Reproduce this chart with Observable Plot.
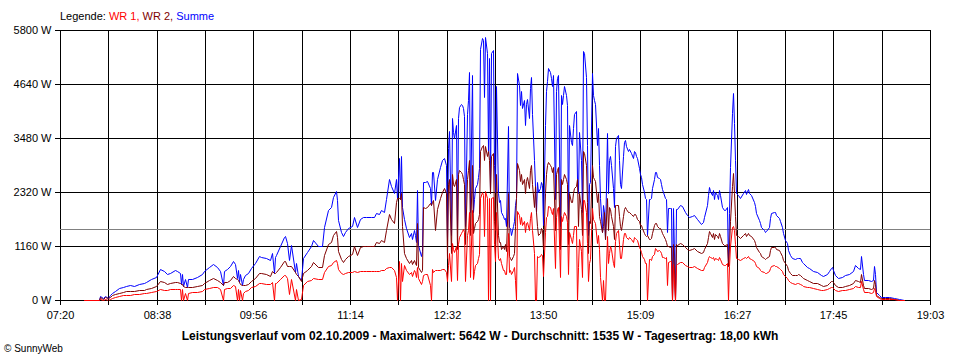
<!DOCTYPE html>
<html><head><meta charset="utf-8">
<script src="https://cdn.jsdelivr.net/npm/d3@7"></script>
<script src="https://cdn.jsdelivr.net/npm/@observablehq/plot@0.6"></script>
<style>
body{margin:0;background:#fff;}
#wrap{position:relative;width:960px;height:360px;font-family:"Liberation Sans",Arial,sans-serif;color:#000;overflow:hidden;}
#chart{position:absolute;left:0;top:0;}
#legend{position:absolute;left:60px;top:10px;font-size:11px;line-height:13px;white-space:nowrap;}
#caption{position:absolute;left:0;width:960px;top:329px;text-align:center;font-size:12px;line-height:14px;font-weight:bold;white-space:nowrap;}
#copy{position:absolute;left:4px;top:343px;font-size:10px;line-height:12px;white-space:nowrap;}
</style></head><body>
<div id="wrap">
<div id="chart"></div>
<div id="legend">Legende: <span style="color:#ff0000">WR 1,</span> <span style="color:#800000">WR 2,</span> <span style="color:#0000ff">Summe</span></div>
<div id="caption">Leistungsverlauf vom 02.10.2009 - Maximalwert: 5642 W - Durchschnitt: 1535 W - Tagesertrag: 18,00 kWh</div>
<div id="copy">© SunnyWeb</div>
</div>
<script>
const times = [
"07:40","07:52","07:53","07:55","07:57","07:59","08:01","08:02","08:05","08:08",
"08:11","08:14","08:17","08:20","08:24","08:28","08:30","08:34","08:38","08:41",
"08:44","08:47","08:49","08:53","08:55","08:57","08:58","08:59","09:00","09:01",
"09:03","09:04","09:07","09:11","09:15","09:17","09:21","09:24","09:27","09:30",
"09:32","09:33","09:35","09:38","09:40","09:42","09:43","09:44","09:45","09:46",
"09:47","09:48","09:50","09:52","09:55","09:58","10:01","10:03","10:07","10:10",
"10:12","10:13","10:14","10:15","10:18","10:21","10:22","10:24","10:25","10:27",
"10:30","10:31","10:33","10:35","10:37","10:40","10:43","10:45","10:49","10:52",
"10:54","10:57","10:59","11:01","11:03","11:04","11:05","11:07","11:09","11:11",
"11:13","11:16","11:18","11:20","11:23","11:25","11:28","11:32","11:34","11:36",
"11:38","11:40","11:42","11:44","11:46","11:48","11:50","11:52","11:53","11:54",
"11:55","11:56","11:57","11:58","12:00","12:02","12:04","12:05","12:06","12:07",
"12:08","12:09","12:10","12:12","12:13","12:14","12:15","12:17","12:19","12:20",
"12:21","12:22","12:23","12:25","12:27","12:29","12:31","12:32","12:33","12:34",
"12:35","12:36","12:37","12:38","12:39","12:40","12:41","12:42","12:43","12:44",
"12:45","12:46","12:47","12:48","12:49","12:50","12:51","12:52","12:53","12:54",
"12:55","12:56","12:57","12:58","12:59","13:00","13:01","13:02","13:03","13:04",
"13:05","13:06","13:07","13:08","13:09","13:10","13:11","13:12","13:13","13:14",
"13:15","13:16","13:17","13:18","13:19","13:20","13:21","13:22","13:23","13:24",
"13:25","13:26","13:27","13:28","13:29","13:30","13:31","13:32","13:33","13:34",
"13:35","13:36","13:37","13:38","13:39","13:40","13:41","13:42","13:43","13:44",
"13:45","13:46","13:47","13:48","13:49","13:50","13:51","13:52","13:53","13:54",
"13:55","13:56","13:57","13:58","13:59","14:00","14:01","14:02","14:03","14:04",
"14:05","14:06","14:07","14:08","14:09","14:10","14:11","14:12","14:13","14:14",
"14:15","14:16","14:17","14:18","14:19","14:20","14:21","14:22","14:23","14:24",
"14:25","14:26","14:27","14:28","14:29","14:30","14:31","14:32","14:33","14:34",
"14:35","14:36","14:37","14:38","14:39","14:40","14:41","14:42","14:43","14:44",
"14:45","14:46","14:47","14:48","14:49","14:50","14:51","14:52","14:53","14:54",
"14:55","14:56","14:57","14:58","14:59","15:00","15:02","15:03","15:04","15:05",
"15:06","15:07","15:08","15:09","15:10","15:11","15:12","15:13","15:14","15:15",
"15:16","15:17","15:18","15:19","15:20","15:21","15:22","15:23","15:24","15:25",
"15:26","15:27","15:28","15:29","15:30","15:31","15:32","15:33","15:34","15:35",
"15:36","15:37","15:38","15:39","15:41","15:43","15:45","15:47","15:49","15:51",
"15:53","15:55","15:58","16:00","16:01","16:03","16:04","16:05","16:06","16:07",
"16:08","16:09","16:10","16:11","16:12","16:13","16:14","16:15","16:17","16:18",
"16:19","16:20","16:21","16:22","16:23","16:24","16:25","16:26","16:27","16:28",
"16:30","16:32","16:34","16:35","16:36","16:37","16:39","16:41","16:42","16:43",
"16:45","16:46","16:47","16:49","16:50","16:51","16:53","16:54","16:55","16:57",
"16:58","16:59","17:01","17:02","17:04","17:05","17:06","17:08","17:09","17:10",
"17:12","17:14","17:16","17:17","17:18","17:20","17:21","17:24","17:26","17:29",
"17:32","17:35","17:37","17:40","17:42","17:43","17:44","17:45","17:47","17:49",
"17:52","17:55","17:58","18:01","18:03","18:05","18:07","18:08","18:09","18:10",
"18:13","18:16","18:17","18:18","18:19","18:20","18:22","18:24","18:27","18:30",
"18:34","18:38","18:42"
];
// WR 1 (W)
const wr1 = [
0,0,30,10,30,10,30,40,60,80,
100,110,115,120,130,140,150,180,200,240,
225,220,230,245,240,235,0,230,0,160,
0,160,165,180,200,230,260,290,275,245,
0,245,250,265,320,300,0,230,0,210,
0,140,200,220,270,310,360,360,350,340,
380,0,360,370,450,530,540,480,120,460,
0,240,0,30,320,400,430,480,450,450,
600,720,760,820,860,800,660,580,560,590,
600,610,620,600,620,625,630,620,620,630,
620,640,650,680,700,700,650,500,0,840,
0,800,400,750,640,550,600,520,650,600,
500,700,480,350,400,540,560,560,320,0,
660,600,650,650,650,670,660,600,400,760,
1020,400,1220,1100,1030,1160,440,1200,1350,1450,
1480,1520,1460,400,1400,1500,1900,500,1930,450,
630,750,800,900,980,2200,2320,2250,1370,2342,
2200,0,2190,0,2200,2220,1200,830,1900,900,
850,900,800,650,650,560,550,1440,610,640,
550,650,700,440,0,1920,1820,1640,1780,1620,
1700,1460,1650,1670,1500,1760,1900,1500,1000,0,
0,940,930,950,990,970,510,1460,1780,1800,
2010,2000,1910,1850,1980,680,1780,1960,1990,500,
1800,1700,1800,1900,1800,1680,550,1460,1300,1230,
1400,1600,1600,0,700,1300,1050,500,2140,2150,
1900,1230,400,800,880,1970,1750,1700,1650,1230,
1400,1100,500,0,440,0,0,1380,800,1000,
1150,1100,800,700,1260,1440,1500,1200,900,900,
1300,1450,1440,1350,1300,1350,1300,1250,1350,1330,
1300,1290,1130,1090,1040,950,880,800,800,0,
880,880,870,950,990,1110,1090,1050,1070,1050,
1000,930,930,900,930,320,820,840,840,0,
770,0,750,780,820,810,750,720,710,710,
720,680,640,650,700,820,900,940,920,900,
930,860,910,880,850,920,880,780,750,760,
800,0,720,1160,1560,1600,1500,1200,900,880,
860,900,930,900,940,900,880,830,790,730,
680,650,620,600,580,590,620,690,730,745,
740,720,690,665,620,565,505,480,420,380,
355,345,355,360,350,325,310,285,270,250,
240,215,205,230,255,280,290,260,220,200,
210,220,230,260,300,280,270,400,230,180,
170,160,170,250,210,80,50,30,25,20,
15,5,0
];
// WR 2 (W)
const wr2 = [
5,6,55,30,60,40,60,100,130,160,
175,185,185,190,205,220,235,260,300,400,
380,340,360,390,385,360,340,335,300,290,
290,285,290,305,330,370,420,480,440,390,
330,380,395,430,510,470,460,420,380,340,
330,320,330,350,410,480,580,570,550,525,
620,590,570,600,700,830,835,740,740,720,
600,560,520,400,575,640,720,810,700,700,
975,1210,1245,1400,1490,1350,1060,890,815,880,
950,980,1155,975,1130,1165,1150,1170,1170,1240,
1230,1290,1250,1500,1850,1750,1650,2100,2200,2200,
2180,2300,1600,1000,900,800,850,780,850,800,
750,1650,700,600,650,2000,1980,2000,2080,2050,
2100,2150,1500,1950,2200,2330,2400,2300,900,2500,
2600,1000,2700,2500,2450,2600,1100,2700,2800,2750,
2700,2600,2500,1200,2600,2800,3000,1400,2900,1450,
1550,1650,1700,1750,1850,3200,3300,3330,3000,3300,
3100,3200,3000,2300,3100,3150,1700,1500,2700,1400,
1250,1250,1100,1150,1100,1200,1050,2300,950,900,
850,950,1000,1600,2200,2950,2800,2550,2700,2500,
2600,2300,2550,2650,2400,2800,2900,2500,2000,2450,
1900,1600,1400,1450,1550,1500,1100,2300,2700,2900,
2970,2900,2850,2750,2850,1500,2700,2800,2850,1100,
2600,2500,2600,2700,2600,2500,1200,2300,2100,2100,
2300,2400,2450,2600,1600,2300,1950,1400,3200,3150,
2900,2100,1000,1700,1650,2900,2650,2600,2550,2100,
2300,1800,1700,1470,1600,1900,1300,2200,1500,2000,
1950,1800,1600,1300,2040,2040,2050,1800,1600,1500,
1800,1950,2000,1950,1900,1900,1850,1800,1850,1850,
1800,1750,1700,1610,1610,1550,1450,1400,1380,1400,
1300,1300,1330,1450,1610,1650,1650,1600,1550,1550,
1500,1450,1400,1300,1250,1150,1150,1130,1130,0,
1200,0,1200,1180,1230,1210,1130,1100,1080,1090,
1110,1060,1000,1030,1090,1220,1350,1480,1430,1350,
1440,1310,1420,1370,1330,1440,1380,1220,1180,1180,
1200,720,1150,1700,2450,2720,2300,1800,1400,1370,
1340,1400,1440,1380,1450,1390,1370,1280,1220,1130,
1040,1000,955,905,890,900,955,1065,1130,1145,
1140,1105,1065,1025,955,865,785,740,655,590,
540,535,545,550,545,500,480,430,410,375,
365,320,305,330,375,400,410,380,320,280,
290,310,330,370,440,410,395,550,330,260,
250,240,260,430,340,105,70,45,45,40,
25,8,3
];
// Summe (W)
const summe = [
8,10,90,40,90,50,100,150,200,250,
290,310,320,310,345,360,390,445,490,660,
620,560,590,645,630,590,340,565,300,450,
290,445,460,500,560,630,700,770,700,630,
330,620,660,720,830,780,470,650,380,560,
330,450,540,570,680,790,945,930,895,860,
1000,590,930,965,1150,1360,1375,1220,860,1180,
600,790,520,430,895,1040,1150,1290,1150,1150,
1575,1930,2005,2220,2350,2150,1720,1470,1375,1470,
1550,1590,1775,1575,1750,1790,1780,1790,1790,1870,
1850,1930,1900,2180,2600,2450,2300,2600,2200,3040,
2180,3100,2000,1750,1540,1350,1450,1300,1500,1400,
1250,2360,1180,950,1050,2540,2540,2560,2400,2050,
2760,2750,2150,2600,2850,3000,3060,2900,1300,3260,
3620,1400,3920,3600,3480,3760,1540,3900,4150,4200,
4180,4120,3960,1600,4000,4300,4900,1900,4830,1900,
2180,2400,2500,2650,2830,5400,5620,5580,4370,5642,
5300,3200,5190,2300,5300,5370,2900,2330,4600,2300,
2100,2150,1900,1800,1750,1760,1600,3740,1560,1540,
1400,1600,1700,2040,2200,4870,4620,4190,4480,4120,
4300,3760,4200,4320,3900,4560,4800,4000,3000,2450,
1900,2540,2330,2400,2540,2470,1610,3760,4480,4700,
4980,4900,4760,4600,4830,2180,4480,4760,4840,1600,
4400,4200,4400,4600,4400,4180,1750,3760,3400,3330,
3700,4000,4050,2600,2300,3600,3000,1900,5340,5300,
4800,3330,1400,2500,2530,4870,4400,4300,4200,3330,
3700,2900,2200,1470,2040,1900,1300,3580,2300,3000,
3100,2900,2400,2000,3300,3480,3550,3000,2500,2400,
3100,3400,3440,3300,3200,3250,3150,3050,3200,3180,
3100,3040,2830,2700,2650,2500,2330,2200,2180,1400,
2180,2180,2200,2400,2600,2760,2740,2650,2620,2600,
2500,2380,2330,2200,2180,1470,1970,1970,1970,0,
1970,0,1950,1960,2050,2020,1880,1820,1790,1800,
1830,1740,1640,1680,1790,2040,2250,2420,2350,2250,
2370,2170,2330,2250,2180,2360,2260,2000,1930,1940,
2000,720,1870,2860,4010,4440,3800,3000,2300,2250,
2200,2300,2370,2280,2390,2290,2250,2110,2010,1860,
1720,1650,1575,1505,1470,1490,1575,1755,1860,1890,
1880,1825,1755,1690,1575,1430,1290,1220,1075,970,
895,880,900,910,895,825,790,715,680,625,
605,535,510,560,630,680,700,640,540,480,
500,530,560,630,750,690,665,945,560,440,
420,400,430,730,550,180,110,70,70,60,
40,15,5
];
const xTickLabels = ["07:20","08:38","09:56","11:14","12:32","13:50","15:09","16:27","17:45","19:03"];
const xDomain = ["07:20:18","19:03:24"];
const yTicks = [0,1160,2320,3480,4640,5800];
const average = 1535;

const toMin = s => { const p = s.split(":").map(Number); return p[0]*60 + p[1] + (p[2] || 0)/60; };
const x0 = toMin(xDomain[0]), x1 = toMin(xDomain[1]);
const nGrid = (xTickLabels.length - 1) * 2;
const gridPos = d3.range(nGrid + 1).map(i => x0 + (x1 - x0) * i / nGrid);
const labelAt = new Map(gridPos.map((p, i) => [p, i % 2 === 0 ? xTickLabels[i / 2] : ""]));
const seriesDefs = [
  {key: "Summe", values: summe, color: "#0000ff"},
  {key: "WR 2", values: wr2, color: "#800000"},
  {key: "WR 1", values: wr1, color: "#ff0000"}
];
const n = Math.min(times.length, wr1.length, wr2.length, summe.length);
const data = seriesDefs.map(s => d3.range(n).map(i => ({t: toMin(times[i]), v: s.values[i]})));

const chart = Plot.plot({
  width: 960, height: 360,
  marginTop: 30, marginRight: 30, marginBottom: 60, marginLeft: 60,
  style: {fontFamily: "'Liberation Sans', Arial, sans-serif", fontSize: "11px", color: "#000", background: "transparent", overflow: "visible"},
  x: {domain: [x0, x1], round: true, label: null},
  y: {domain: [0, 5800], round: true, label: null},
  marks: [
    Plot.ruleX(gridPos, {stroke: "#000", shapeRendering: "crispEdges"}),
    Plot.ruleY(yTicks, {stroke: "#000", shapeRendering: "crispEdges"}),
    Plot.ruleY([average], {stroke: "#808080", shapeRendering: "crispEdges"}),
    ...seriesDefs.map((s, k) => Plot.line(data[k], {x: "t", y: "v", stroke: s.color, strokeWidth: 1, strokeLinejoin: "miter"})),
    Plot.axisX(gridPos, {tickSize: 5, tickPadding: 6, tickFormat: d => labelAt.get(d), stroke: "#000", fill: "#000", label: null}),
    Plot.axisY(yTicks, {tickSize: 5, tickPadding: 4, tickFormat: d => d + " W", stroke: "#000", fill: "#000", label: null})
  ]
});
document.getElementById("chart").appendChild(chart);
</script>
</body></html>
